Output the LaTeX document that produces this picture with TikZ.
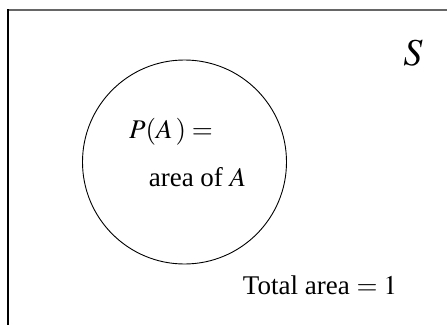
\documentclass[tikz,border=0pt]{standalone}
\usepackage{mathptmx}
\usepackage{fontspec}
\setmainfont{Liberation Serif}
\usepackage{tikz}
\usetikzlibrary{positioning}

\begin{document}
\begin{tikzpicture}[x=1pt,y=-1pt,font=\fontsize{27}{32}\selectfont,
  txt/.style={inner sep=0pt, anchor=base}]
  \useasboundingbox (0,0) rectangle (447,324);
  \clip (0,0) rectangle (447,324);
  % sample space S
  \draw[line width=2.2pt, black!60] (7,10) -- (460,10);
  \draw[line width=1.8pt, black] (8,9) -- (8,340);
  \node[txt, font=\fontsize{38}{44}\selectfont] (s) at (413,65) {$S$};
  % event A
  \node[draw, circle, line width=0.9pt, minimum size=204pt, inner sep=0pt] (a) at (184.5,162) {};
  \node[txt] (pa) at (171,138) {$P(A\,) =$};
  \node[txt] (area) at (197.5,186) {area of $A$};
  \node[txt] (total) at (320,294) {Total area $=1$};
\end{tikzpicture}
\end{document}
